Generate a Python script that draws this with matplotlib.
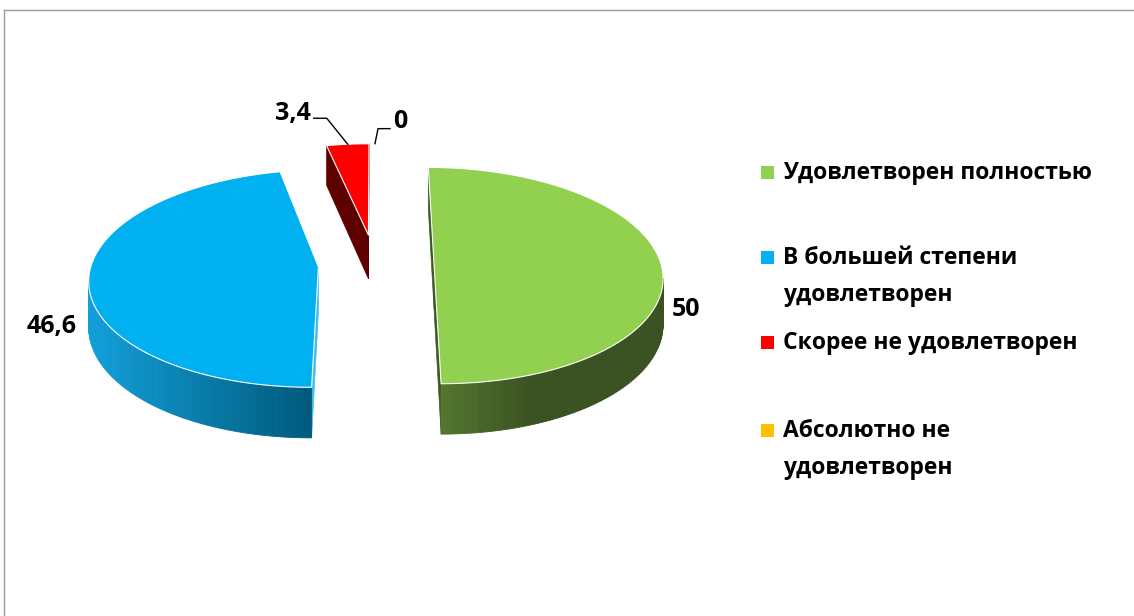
import numpy as np
import matplotlib
matplotlib.use("Agg")
import matplotlib.pyplot as plt
from matplotlib.patches import Polygon, Rectangle
from matplotlib.lines import Line2D
from matplotlib.colors import to_rgb

plt.rcParams['font.family'] = ['Open Sans', 'DejaVu Sans']

# --- data ---
categories = ["Удовлетворен полностью", "В большей степени\nудовлетворен",
              "Скорее не удовлетворен", "Абсолютно не\nудовлетворен"]
values = [50, 46.6, 3.4, 0]
value_labels = ["50", "46,6", "3,4", "0"]

# --- style ---
top_colors = ["#92D050", "#00B0F0", "#FF0000", "#FFC000"]
wall_light = ["#52752f", "#129fda", "#600000", "#a07800"]
wall_dark = ["#3a5221", "#005a7c", "#600000", "#a07800"]
cut_colors = ["#3d5a22", "#3fbdee", "#5e0000", "#a07800"]
wall_gain = [2.5, 1.0, 1.0, 1.0]
explode = [0.26, 0.25, 0.28, 0.28]
label_r = [1.11, 1.16, None, None]

# --- layout (pixels) ---
W, H = 1134, 616
CX, CY = 375, 264
R = 227
K = 0.471
DEPTH = 45
PERSP = 0.107


def project(X, Y, Z):
    s = 1.0 / (1.0 + PERSP * Y / R)
    return CX + X * s, CY - (K * Y + Z) * s


def signed_area(pts):
    x = np.array([p[0] for p in pts])
    y = np.array([p[1] for p in pts])
    return 0.5 * np.sum(x * np.roll(y, -1) - np.roll(x, -1) * y)


def mix(c1, c2, t):
    a, b = np.array(to_rgb(c1)), np.array(to_rgb(c2))
    return tuple(a + (b - a) * t)


fig = plt.figure(figsize=(W / 100, H / 100), dpi=100)
ax = fig.add_axes([0, 0, 1, 1])
ax.set_xlim(0, W)
ax.set_ylim(H, 0)
ax.axis('off')

total = sum(values)
bounds = np.concatenate([[0], np.cumsum(values)]) / total * 360.0

slices = []
for i, v in enumerate(values):
    a0, a1 = bounds[i], bounds[i + 1]
    mid = np.radians((a0 + a1) / 2)
    xc = explode[i] * R * np.sin(mid)
    yc = explode[i] * R * np.cos(mid)
    slices.append((i, a0, a1, mid, xc, yc))

# far slices first
for i, a0, a1, mid, xc, yc in sorted(slices, key=lambda s: -s[5]):
    if values[i] == 0:
        continue
    n = max(3, int(a1 - a0) + 2)
    angs = np.radians(np.linspace(a0, a1, n))

    def rim(a, z):
        return project(xc + R * np.sin(a), yc + R * np.cos(a), z)

    ctop = project(xc, yc, 0)
    cbot = project(xc, yc, -DEPTH)

    # cut faces
    p0t, p0b = rim(angs[0], 0), rim(angs[0], -DEPTH)
    p1t, p1b = rim(angs[-1], 0), rim(angs[-1], -DEPTH)
    for quad in ([ctop, p0t, p0b, cbot], [p1t, ctop, cbot, p1b]):
        if signed_area(quad) < -1e-6:
            ax.add_patch(Polygon(quad, closed=True, facecolor=cut_colors[i],
                                 edgecolor=cut_colors[i], lw=0.5))

    # outer wall
    segs = []
    for a, b in zip(angs[:-1], angs[1:]):
        quad = [rim(a, 0), rim(b, 0), rim(b, -DEPTH), rim(a, -DEPTH)]
        if signed_area(quad) < 0:
            segs.append(quad)
    if segs:
        xs = [np.mean([p[0] for p in q]) for q in segs]
        xmin, xmax = min(xs), max(xs)
        for q, xm in zip(segs, xs):
            t = 0 if xmax == xmin else (xm - xmin) / (xmax - xmin)
            col = mix(wall_light[i], wall_dark[i], min(1.0, t * wall_gain[i]))
            ax.add_patch(Polygon(q, closed=True, facecolor=col,
                                 edgecolor=col, lw=0.6))

    # top face
    top = [ctop] + [rim(a, 0) for a in angs]
    ax.add_patch(Polygon(top, closed=True, facecolor=top_colors[i],
                         edgecolor='white', lw=0.8, joinstyle='round'))

# data labels
leader_offsets = {2: [(-21, -26), (-34, -26)], 3: [(3, -15), (15, -15)]}
text_offsets = {2: (-37, -31, 'right'), 3: (18, -22, 'left')}
for i, a0, a1, mid, xc, yc in slices:
    if label_r[i] is not None:
        lx, ly = project(xc + label_r[i] * R * np.sin(mid),
                         yc + label_r[i] * R * np.cos(mid), -DEPTH)
        ax.text(lx, ly, value_labels[i], ha='center', va='center',
                fontsize=18, fontweight='bold', color='black')
    else:
        anc = project(xc + R * np.sin(mid), yc + R * np.cos(mid), 0)
        pts = [anc] + [(anc[0] + dx, anc[1] + dy) for dx, dy in leader_offsets[i]]
        ax.plot([p[0] for p in pts], [p[1] for p in pts], color='black', lw=1)
        dx, dy, ha = text_offsets[i]
        ax.text(anc[0] + dx, anc[1] + dy, value_labels[i], ha=ha, va='center',
                fontsize=18, fontweight='bold', color='black')

# legend
leg_y = [172, 257, 342, 430]
for i, name in enumerate(categories):
    ax.add_patch(Rectangle((761, leg_y[i] - 6.5), 13, 13, facecolor=top_colors[i],
                           edgecolor='none'))
    ax.text(783, leg_y[i] - 11, name, ha='left', va='top', fontsize=16.5,
            fontweight='bold', color='black', linespacing=1.72)

# chart frame
fig.add_artist(Line2D([4 / W, 1], [1 - 10 / H, 1 - 10 / H], transform=fig.transFigure,
                      color='#9a9a9a', lw=1))
fig.add_artist(Line2D([4 / W, 4 / W], [0, 1 - 10 / H], transform=fig.transFigure,
                      color='#9a9a9a', lw=1))

fig.savefig("out.png", dpi=100)
